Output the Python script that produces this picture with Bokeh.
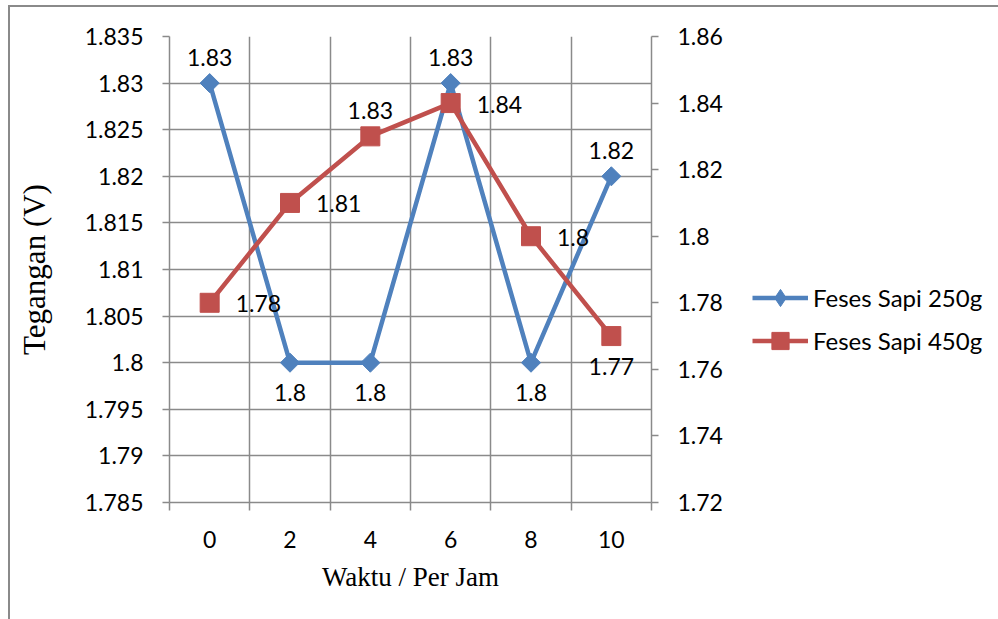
import math
from bokeh.plotting import figure
from bokeh.layouts import row
from bokeh.models import (Range1d, LinearAxis, FixedTicker, CustomJSTickFormatter,
                          ColumnDataSource, Legend, LegendItem, InlineStyleSheet)
from bokeh.core.properties import value
from bokeh.embed import file_html
from bokeh.resources import INLINE

# ---- data ----
hours = [0, 2, 4, 6, 8, 10]
hour_labels = ["0", "2", "4", "6", "8", "10"]
sapi_250 = [1.83, 1.80, 1.80, 1.83, 1.80, 1.82]
sapi_450 = [1.78, 1.81, 1.83, 1.84, 1.80, 1.77]
left_ticks = [1.785, 1.79, 1.795, 1.80, 1.805, 1.81, 1.815, 1.82, 1.825, 1.83, 1.835]
right_ticks = [1.72, 1.74, 1.76, 1.78, 1.80, 1.82, 1.84, 1.86]
series_names = ["Feses Sapi 250g", "Feses Sapi 450g"]
x_title = "Waktu / Per Jam"
y_title = "Tegangan (V)"

# label placement (style)
label_pos_250 = ["above", "below", "below", "above", "below", "above"]
label_pos_450 = ["right", "right", "above", "right", "right", "below"]

# ---- style ----
BLUE = "#4F81BD"
RED = "#C0504D"
GRID = "#8A8A8A"
TICK_FONT = "Lato"
TICK_SIZE = "23px"
TITLE_FONT = "Liberation Serif"

step = hours[1] - hours[0]
boundaries = [h - step / 2 for h in hours] + [hours[-1] + step / 2]

p = figure(width=730, height=619,
           x_range=Range1d(boundaries[0], boundaries[-1]),
           y_range=Range1d(left_ticks[0], left_ticks[-1]),
           output_backend="svg", toolbar_location=None,
           min_border_left=169, min_border_right=79,
           min_border_top=36, min_border_bottom=117)
p.extra_y_ranges = {"right": Range1d(right_ticks[0], right_ticks[-1])}
p.outline_line_color = None
p.background_fill_color = "white"
p.border_fill_color = "white"

fmt = CustomJSTickFormatter(code="return parseFloat(tick.toFixed(4)).toString();")

# x axis
xa = p.xaxis[0]
xa.ticker = FixedTicker(ticks=hours, minor_ticks=boundaries)
xa.major_label_overrides = {h: l for h, l in zip(hours, hour_labels)}
xa.major_tick_out = 0
xa.major_tick_in = 0
xa.minor_tick_out = 8
xa.minor_tick_in = 0
xa.minor_tick_line_color = GRID
xa.minor_tick_line_width = 1.5
xa.axis_line_color = GRID
xa.axis_line_width = 1.5
xa.major_label_standoff = 20
xa.axis_label = x_title
xa.axis_label_standoff = 11
xa.axis_label_text_font_size = "27px"

# left y axis
ya = p.yaxis[0]
ya.ticker = FixedTicker(ticks=left_ticks)
ya.formatter = fmt
ya.axis_label = y_title
ya.axis_label_standoff = 30
ya.axis_label_text_font_size = "31px"

# right y axis
yr = LinearAxis(y_range_name="right", ticker=FixedTicker(ticks=right_ticks), formatter=fmt)
p.add_layout(yr, "right")

for ax in (ya, yr):
    ax.major_tick_out = 7
    ax.major_tick_in = 0
    ax.minor_tick_line_color = None
    ax.major_tick_line_color = GRID
    ax.major_tick_line_width = 1.5
    ax.axis_line_color = GRID
    ax.axis_line_width = 1.5
    ax.major_label_standoff = 19

for ax in (xa, ya, yr):
    ax.major_label_text_font = TICK_FONT
    ax.major_label_text_font_size = TICK_SIZE
    ax.major_label_text_color = "black"
    ax.axis_label_text_font = TITLE_FONT
    ax.axis_label_text_font_style = "normal"
    ax.axis_label_text_color = "black"

p.xgrid[0].ticker = FixedTicker(ticks=boundaries)
p.ygrid[0].ticker = FixedTicker(ticks=left_ticks)
for g in (p.xgrid[0], p.ygrid[0]):
    g.grid_line_color = GRID
    g.grid_line_width = 1.5

# ---- series ----
p.line(hours, sapi_250, line_color=BLUE, line_width=4.5)
p.scatter(hours, sapi_250, marker="square", angle=math.pi / 4, size=13.5,
          fill_color=BLUE, line_color=BLUE)
p.line(hours, sapi_450, line_color=RED, line_width=4.5, y_range_name="right")
p.scatter(hours, sapi_450, marker="square", size=19,
          fill_color=RED, line_color=RED, y_range_name="right")

# ---- data labels ----
offsets = {"above": (0, -26, "center"), "below": (0, 30, "center"), "right": (26, 1, "left")}


def label_source(xs, ys, pos):
    return ColumnDataSource(dict(
        x=xs, y=ys, text=[f"{v:g}" for v in ys],
        dx=[offsets[k][0] for k in pos], dy=[offsets[k][1] for k in pos],
        align=[offsets[k][2] for k in pos]))


for xs, ys, pos, rng in ((hours, sapi_250, label_pos_250, "default"),
                         (hours, sapi_450, label_pos_450, "right")):
    p.text(x="x", y="y", text="text", source=label_source(xs, ys, pos),
           x_offset="dx", y_offset="dy", text_align="align", text_baseline="middle",
           text_font=value(TICK_FONT), text_font_size=TICK_SIZE, text_color="black",
           y_range_name=rng)

# ---- legend panel (separate figure to the right) ----
pl = figure(width=268, height=619, x_range=Range1d(0, 1), y_range=Range1d(0, 1),
            x_axis_type=None, y_axis_type=None, output_backend="svg",
            toolbar_location=None, min_border=0)
pl.outline_line_color = None
pl.grid.visible = False
pl.background_fill_color = "white"
pl.border_fill_color = "white"
# legend swatches only (kept outside the visible range)
r1l = pl.line([5, 6], [5, 6], line_color=BLUE, line_width=4.5)
r1m = pl.scatter([5], [5], marker="diamond", size=20, fill_color=BLUE, line_color=BLUE)
r2l = pl.line([5, 6], [5, 6], line_color=RED, line_width=4.5)
r2m = pl.scatter([5], [5], marker="square", size=19, fill_color=RED, line_color=RED)

legend = Legend(items=[LegendItem(label=series_names[0], renderers=[r1l, r1m]),
                       LegendItem(label=series_names[1], renderers=[r2l, r2m])],
                location=(22, 140), glyph_width=56, glyph_height=43, spacing=0,
                label_standoff=5, padding=0, margin=0,
                border_line_color=None, background_fill_alpha=0,
                label_text_font=TICK_FONT, label_text_font_size="24px",
                label_text_color="black")
pl.add_layout(legend)

layout = row(p, pl, spacing=0)
layout.stylesheets = [InlineStyleSheet(css="""
:host { position: relative; }
:host::after {
  content: ""; position: absolute; left: 8px; top: 5px; right: 0; bottom: 0;
  border-left: 2px solid #8A8A8A; border-top: 2px solid #8A8A8A;
  pointer-events: none; z-index: 10;
}
""")]

open("out.html", "w").write(file_html(layout, INLINE))
